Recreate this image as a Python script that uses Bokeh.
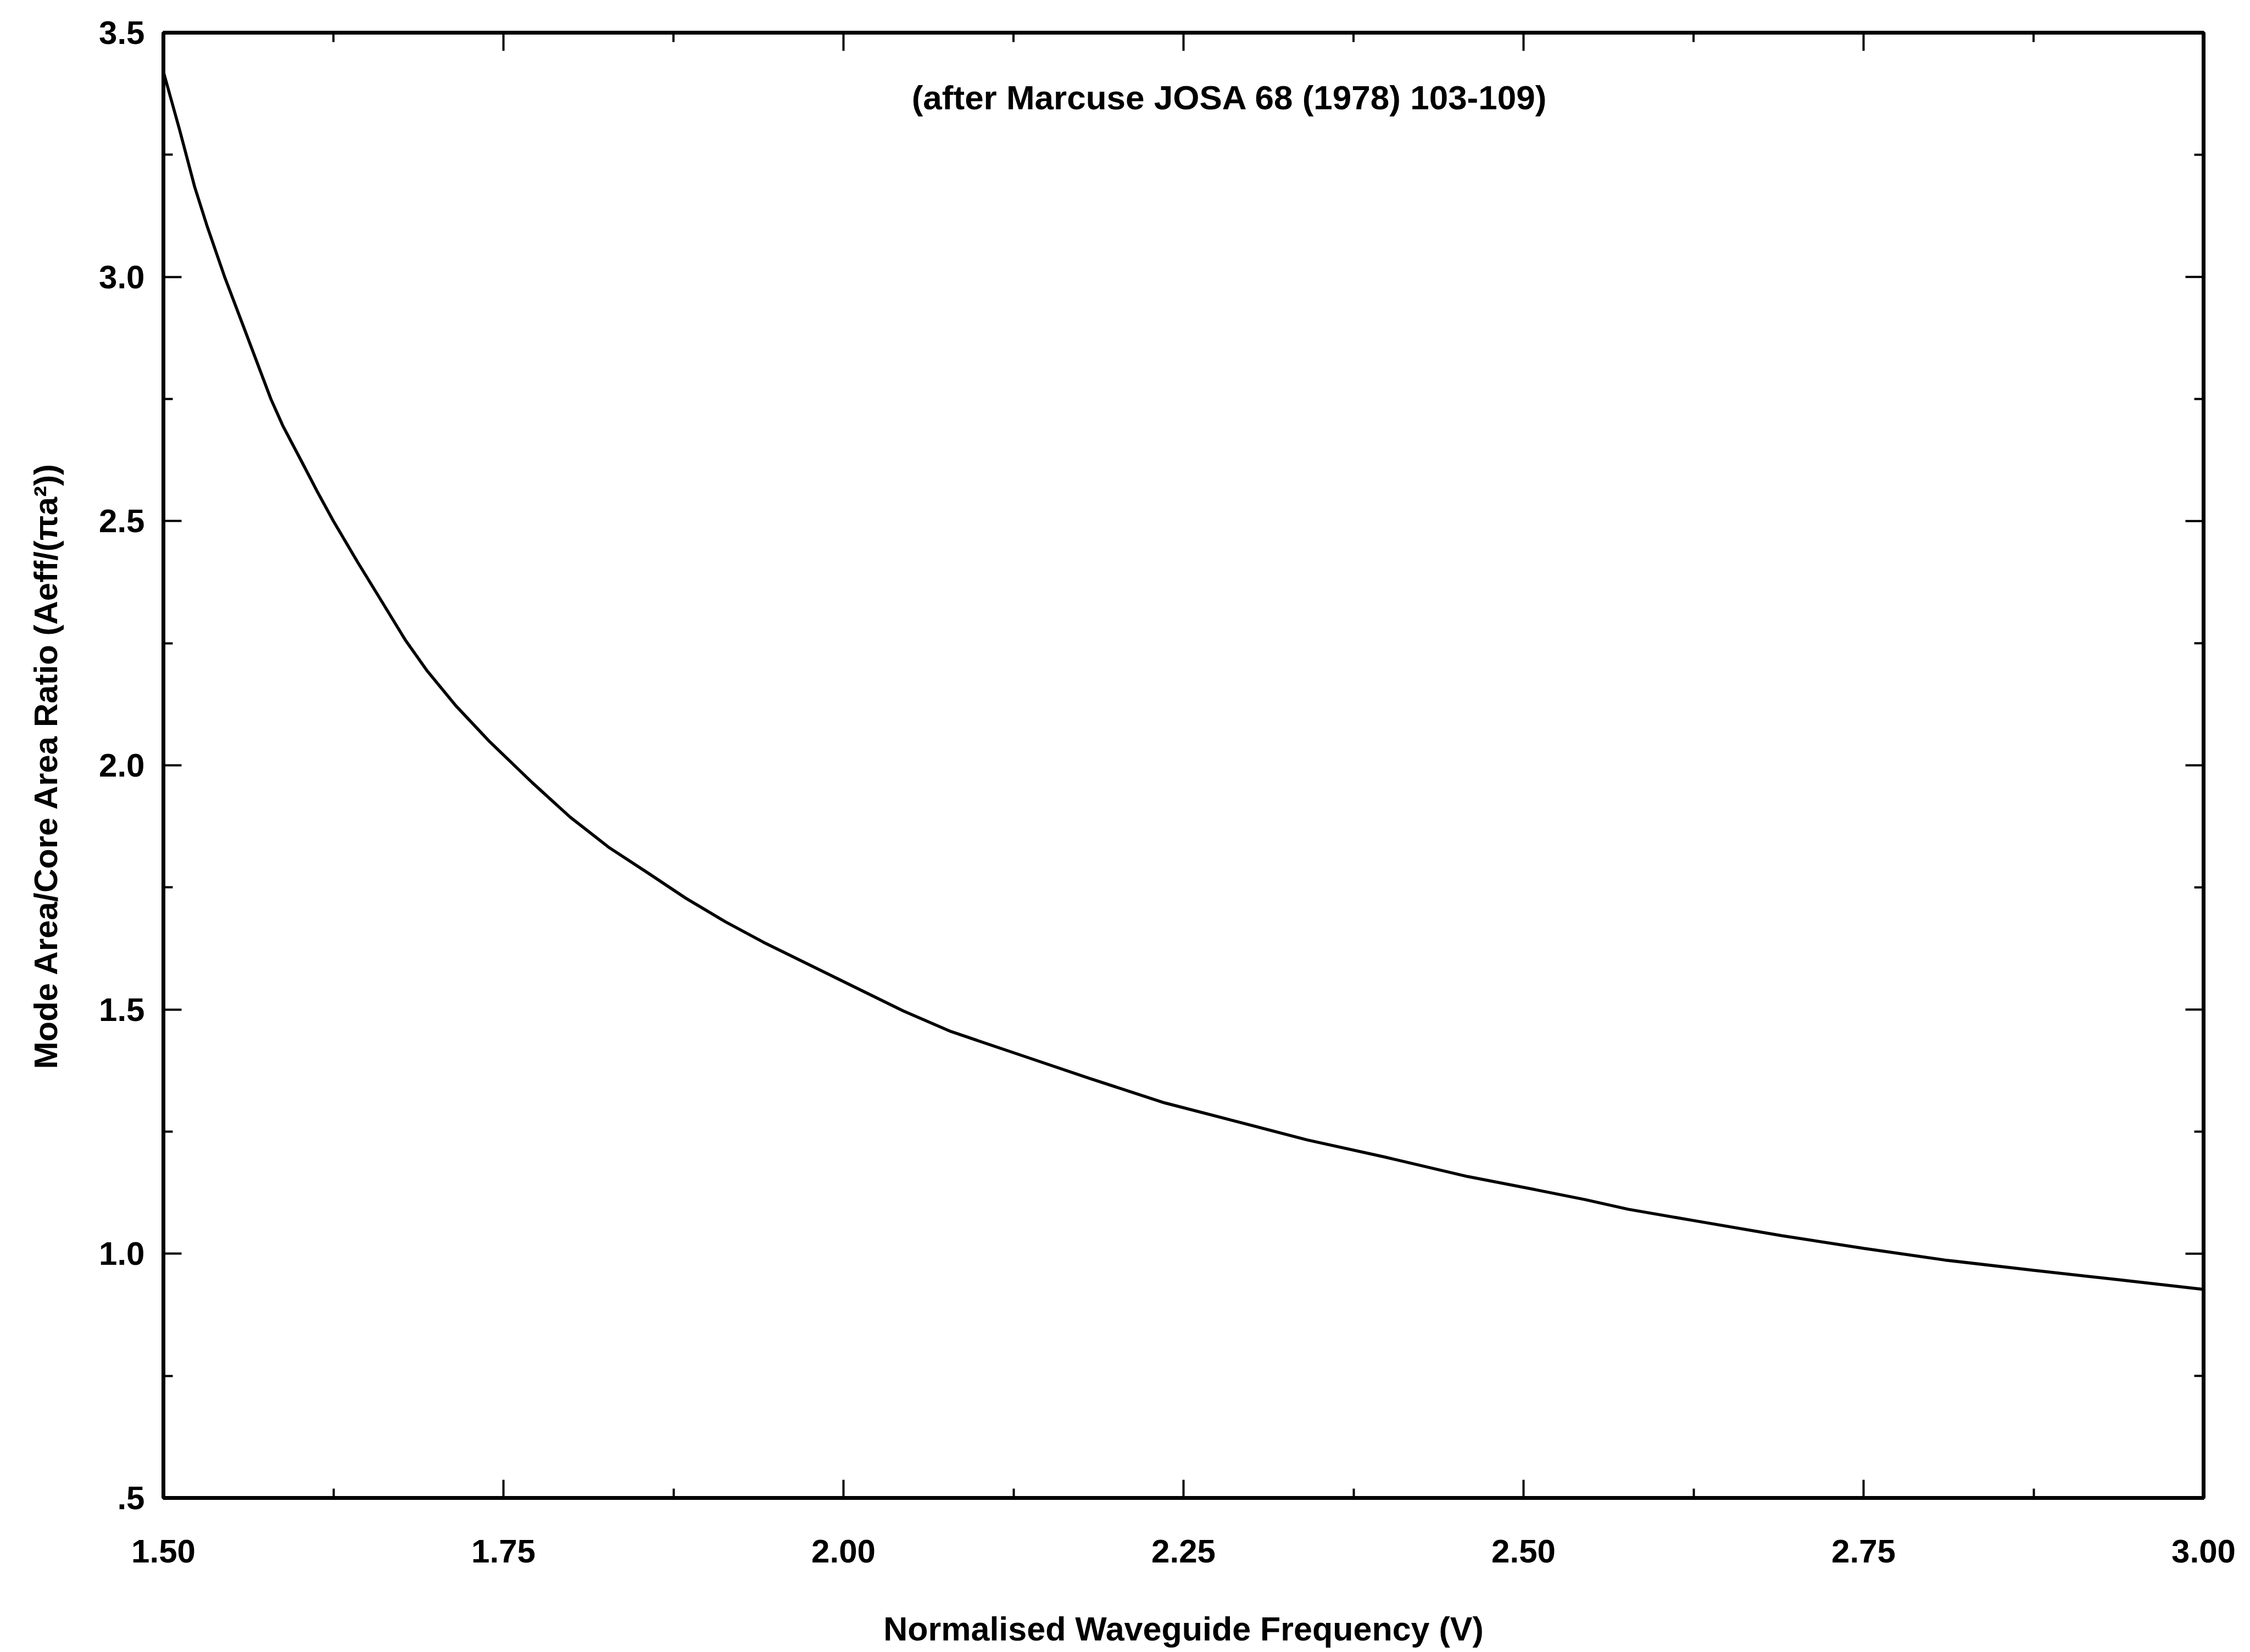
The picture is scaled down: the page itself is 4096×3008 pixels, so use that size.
import math
from bokeh.plotting import figure
from bokeh.models import FixedTicker, LinearAxis, Label, Range1d
from bokeh.embed import file_html
from bokeh.resources import INLINE

# ---- data ----
v_values = [1.500, 1.505, 1.512, 1.523, 1.532, 1.545, 1.560, 1.579, 1.588, 1.602,
            1.613, 1.625, 1.643, 1.658, 1.678, 1.694, 1.715, 1.740, 1.771, 1.799,
            1.828, 1.856, 1.884, 1.913, 1.941, 2.044, 2.079, 2.131, 2.181, 2.236,
            2.286, 2.341, 2.398, 2.459, 2.509, 2.545, 2.577, 2.625, 2.690, 2.750,
            2.810, 2.875, 2.937, 3.000]
ratio_values = [3.42, 3.37, 3.30, 3.184, 3.105, 3.00, 2.89, 2.75, 2.694, 2.62,
                2.561, 2.50, 2.415, 2.347, 2.256, 2.193, 2.122, 2.048, 1.965, 1.894,
                1.831, 1.780, 1.728, 1.680, 1.638, 1.497, 1.455, 1.406, 1.359, 1.309,
                1.273, 1.233, 1.198, 1.158, 1.131, 1.111, 1.091, 1.068, 1.037, 1.011,
                0.987, 0.966, 0.947, 0.927]

x_major_ticks = [1.50, 1.75, 2.00, 2.25, 2.50, 2.75, 3.00]
x_minor_ticks = [1.625, 1.875, 2.125, 2.375, 2.625, 2.875]
x_tick_labels = ["1.50", "1.75", "2.00", "2.25", "2.50", "2.75", "3.00"]
y_major_ticks = [0.5, 1.0, 1.5, 2.0, 2.5, 3.0, 3.5]
y_minor_ticks = [0.75, 1.25, 1.75, 2.25, 2.75, 3.25]
y_tick_labels = [".5", "1.0", "1.5", "2.0", "2.5", "3.0", "3.5"]

x_title = "Normalised Waveguide Frequency (V)"
y_title = "Mode Area/Core Area Ratio (Aeff/(\u03c0a\u00b2))"
note_text = "(after Marcuse JOSA 68 (1978) 103-109)"

FONT = "Liberation Sans"
X_MIN, X_MAX = 1.5, 3.0
Y_MIN, Y_MAX = 0.5, 3.5

p = figure(width=4092, height=3005, output_backend="svg", toolbar_location=None,
           x_range=Range1d(X_MIN, X_MAX), y_range=Range1d(Y_MIN, Y_MAX),
           x_axis_location=None, y_axis_location=None,
           min_border_left=297, min_border_right=81,
           min_border_top=59, min_border_bottom=278)
p.xgrid.visible = False
p.ygrid.visible = False
p.background_fill_color = "white"
p.border_fill_color = "white"
p.outline_line_color = "black"
p.outline_line_width = 7

MAJ_LEN, MIN_LEN, TICK_W = 33, 17, 4

def style_axis(ax):
    ax.axis_line_color = None
    ax.major_tick_in = MAJ_LEN
    ax.major_tick_out = 0
    ax.minor_tick_in = MIN_LEN
    ax.minor_tick_out = 0
    ax.major_tick_line_width = TICK_W
    ax.minor_tick_line_width = TICK_W
    ax.major_tick_line_color = "black"
    ax.minor_tick_line_color = "black"
    ax.major_label_text_font = FONT
    ax.major_label_text_font_style = "bold"
    ax.major_label_text_color = "black"
    ax.major_label_text_font_size = "60px"

xb = LinearAxis(ticker=FixedTicker(ticks=x_major_ticks, minor_ticks=x_minor_ticks))
xb.major_label_overrides = {t: s for t, s in zip(x_major_ticks, x_tick_labels)}
style_axis(xb)
xb.major_label_standoff = 76
xb.axis_label = x_title
xb.axis_label_text_font = FONT
xb.axis_label_text_font_style = "bold"
xb.axis_label_text_font_size = "61px"
xb.axis_label_text_color = "black"
xb.axis_label_standoff = 84
p.add_layout(xb, "below")

yl = LinearAxis(ticker=FixedTicker(ticks=y_major_ticks, minor_ticks=y_minor_ticks))
yl.major_label_overrides = {t: s for t, s in zip(y_major_ticks, y_tick_labels)}
style_axis(yl)
yl.major_label_standoff = 34
yl.axis_label = y_title
yl.axis_label_text_font = FONT
yl.axis_label_text_font_style = "bold"
yl.axis_label_text_font_size = "60px"
yl.axis_label_text_color = "black"
yl.axis_label_standoff = 60
p.add_layout(yl, "left")

# inward ticks on the top and right frame edges (lengths in screen pixels)
p.ray(x=x_major_ticks, y=[Y_MAX] * len(x_major_ticks), length=MAJ_LEN,
      length_units="screen", angle=-math.pi / 2, line_color="black", line_width=TICK_W)
p.ray(x=x_minor_ticks, y=[Y_MAX] * len(x_minor_ticks), length=MIN_LEN,
      length_units="screen", angle=-math.pi / 2, line_color="black", line_width=TICK_W)
p.ray(x=[X_MAX] * len(y_major_ticks), y=y_major_ticks, length=MAJ_LEN,
      length_units="screen", angle=math.pi, line_color="black", line_width=TICK_W)
p.ray(x=[X_MAX] * len(y_minor_ticks), y=y_minor_ticks, length=MIN_LEN,
      length_units="screen", angle=math.pi, line_color="black", line_width=TICK_W)

p.line(v_values, ratio_values, line_color="black", line_width=5.5)

note = Label(x=2.284, y=3.367, text=note_text, text_align="center",
             text_baseline="middle", text_font=FONT, text_font_style="bold",
             text_font_size="62px", text_color="black")
p.add_layout(note)

with open("out.html", "w") as f:
    f.write(file_html(p, INLINE))
